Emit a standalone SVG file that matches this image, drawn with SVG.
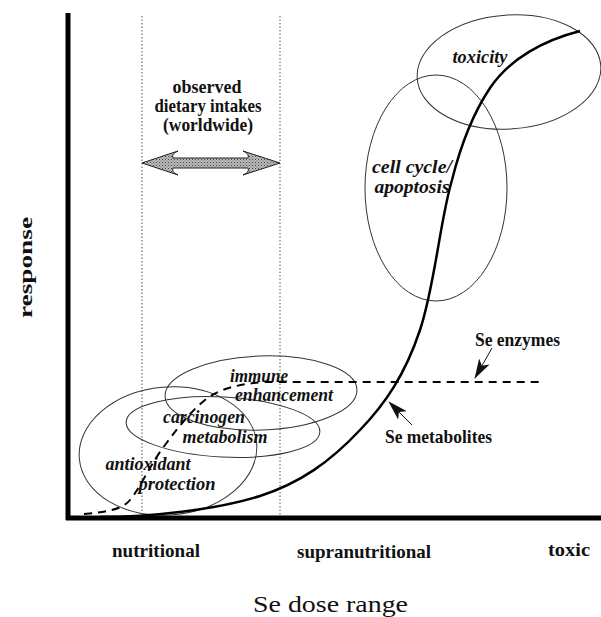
<svg xmlns="http://www.w3.org/2000/svg" width="601" height="617" viewBox="0 0 601 617">
<style>
.lbl{font-family:"Liberation Serif","Times New Roman",serif;font-weight:bold;font-size:19px;fill:#111}
.it{font-family:"Liberation Serif","Times New Roman",serif;font-weight:bold;font-style:italic;font-size:18px;fill:#111}
.ell{fill:none;stroke:#333;stroke-width:1}
.guide{stroke:#555;stroke-width:1;stroke-dasharray:1.5 2}
</style>
<defs>
<pattern id="stip" width="3" height="3" patternUnits="userSpaceOnUse">
<rect width="3" height="3" fill="#bbb"/>
<rect width="1" height="1" fill="#444"/>
<rect x="1.5" y="1.5" width="1" height="1" fill="#666"/>
</pattern>
<marker id="ah" viewBox="0 0 20 12" refX="19" refY="6" markerWidth="20" markerHeight="12" markerUnits="userSpaceOnUse" orient="auto">
<path d="M0,0 L20,6 L0,12 L5,6 Z" fill="#111"/>
</marker>
</defs>

<g id="axes">
<line x1="68" y1="13" x2="68" y2="520" stroke="#000" stroke-width="5"/>
<line x1="66" y1="518" x2="601" y2="518" stroke="#000" stroke-width="5"/>
</g>

<g id="guides">
<line class="guide" x1="142" y1="16" x2="142" y2="516"/>
<line class="guide" x1="280" y1="16" x2="280" y2="516"/>
</g>

<g id="intakes">
<text class="lbl" x="207" y="93" text-anchor="middle" textLength="69" lengthAdjust="spacingAndGlyphs">observed</text>
<text class="lbl" x="208" y="112" text-anchor="middle" textLength="107" lengthAdjust="spacingAndGlyphs">dietary intakes</text>
<text class="lbl" x="208" y="131" text-anchor="middle" textLength="90" lengthAdjust="spacingAndGlyphs">(worldwide)</text>
<path d="M142,163 L178,151 Q171,154 173,158 L248,158 Q250,154 243,151 L280,163 L243,175 Q250,172 248,168 L173,168 Q171,172 178,175 Z" fill="url(#stip)" stroke="#222" stroke-width="1"/>
</g>

<g id="toxicity">
<ellipse class="ell" cx="509" cy="72" rx="92" ry="57" transform="rotate(-4 509 72)"/>
<text class="it" x="480" y="63" text-anchor="middle" textLength="55" lengthAdjust="spacingAndGlyphs">toxicity</text>
</g>

<g id="cellcycle">
<ellipse class="ell" cx="436" cy="188" rx="71" ry="113"/>
<text class="it" x="412" y="173" text-anchor="middle" textLength="80" lengthAdjust="spacingAndGlyphs">cell cycle/</text>
<text class="it" x="412" y="193" text-anchor="middle" textLength="75" lengthAdjust="spacingAndGlyphs">apoptosis</text>
</g>

<g id="antioxidant">
<ellipse class="ell" cx="168" cy="451" rx="89" ry="64" transform="rotate(-5 168 451)"/>
<text class="it" x="148" y="470" text-anchor="middle" textLength="85" lengthAdjust="spacingAndGlyphs">antioxidant</text>
<text class="it" x="177" y="490" text-anchor="middle" textLength="77" lengthAdjust="spacingAndGlyphs">protection</text>
</g>

<g id="carcinogen">
<ellipse class="ell" cx="223" cy="427" rx="97" ry="30" transform="rotate(3 223 427)"/>
<text class="it" x="204" y="423" text-anchor="middle" textLength="82" lengthAdjust="spacingAndGlyphs">carcinogen</text>
<text class="it" x="225" y="443" text-anchor="middle" textLength="85" lengthAdjust="spacingAndGlyphs">metabolism</text>
</g>

<g id="immune">
<ellipse class="ell" cx="261" cy="393" rx="96" ry="37" transform="rotate(-2 261 393)"/>
<text class="it" x="259" y="382" text-anchor="middle" textLength="58" lengthAdjust="spacingAndGlyphs">immune</text>
<text class="it" x="284" y="401" text-anchor="middle" textLength="98" lengthAdjust="spacingAndGlyphs">enhancement</text>
</g>

<g id="connectors">
<path d="M100,517 C150,517 215,510 260,496 C300,483 330,462 360,430 C385,404 405,375 420,330 C435,285 440,220 452,180 C462,140 474,112 490,88 C510,58 545,40 580,31" fill="none" stroke="#000" stroke-width="2.5"/>
<path d="M84,514 C105,512 122,510 130,500 C140,488 150,465 165,445 C178,428 188,414 205,400 C220,388 240,384 265,382 L542,382" fill="none" stroke="#000" stroke-width="2" stroke-dasharray="8 6"/>
<line x1="492" y1="348" x2="475" y2="378" stroke="#111" stroke-width="1" marker-end="url(#ah)"/>
<line x1="412" y1="425" x2="389" y2="402" stroke="#111" stroke-width="1" marker-end="url(#ah)"/>
</g>

<g id="curve-labels">
<text class="lbl" x="475" y="346" textLength="85" lengthAdjust="spacingAndGlyphs">Se enzymes</text>
<text class="lbl" x="385" y="443" textLength="107" lengthAdjust="spacingAndGlyphs">Se metabolites</text>
</g>

<g id="axis-labels">
<text class="lbl" x="112" y="557" textLength="88" lengthAdjust="spacingAndGlyphs">nutritional</text>
<text class="lbl" x="297" y="558" textLength="134" lengthAdjust="spacingAndGlyphs">supranutritional</text>
<text class="lbl" x="548" y="556" textLength="42" lengthAdjust="spacingAndGlyphs">toxic</text>
<text x="253" y="612" font-family="Liberation Serif, Times New Roman, serif" font-size="24" fill="#111" textLength="155" lengthAdjust="spacingAndGlyphs">Se dose range</text>
<text class="lbl" x="0" y="0" font-size="24" transform="translate(32 318) rotate(-90)" textLength="101" lengthAdjust="spacingAndGlyphs">response</text>
</g>
</svg>
